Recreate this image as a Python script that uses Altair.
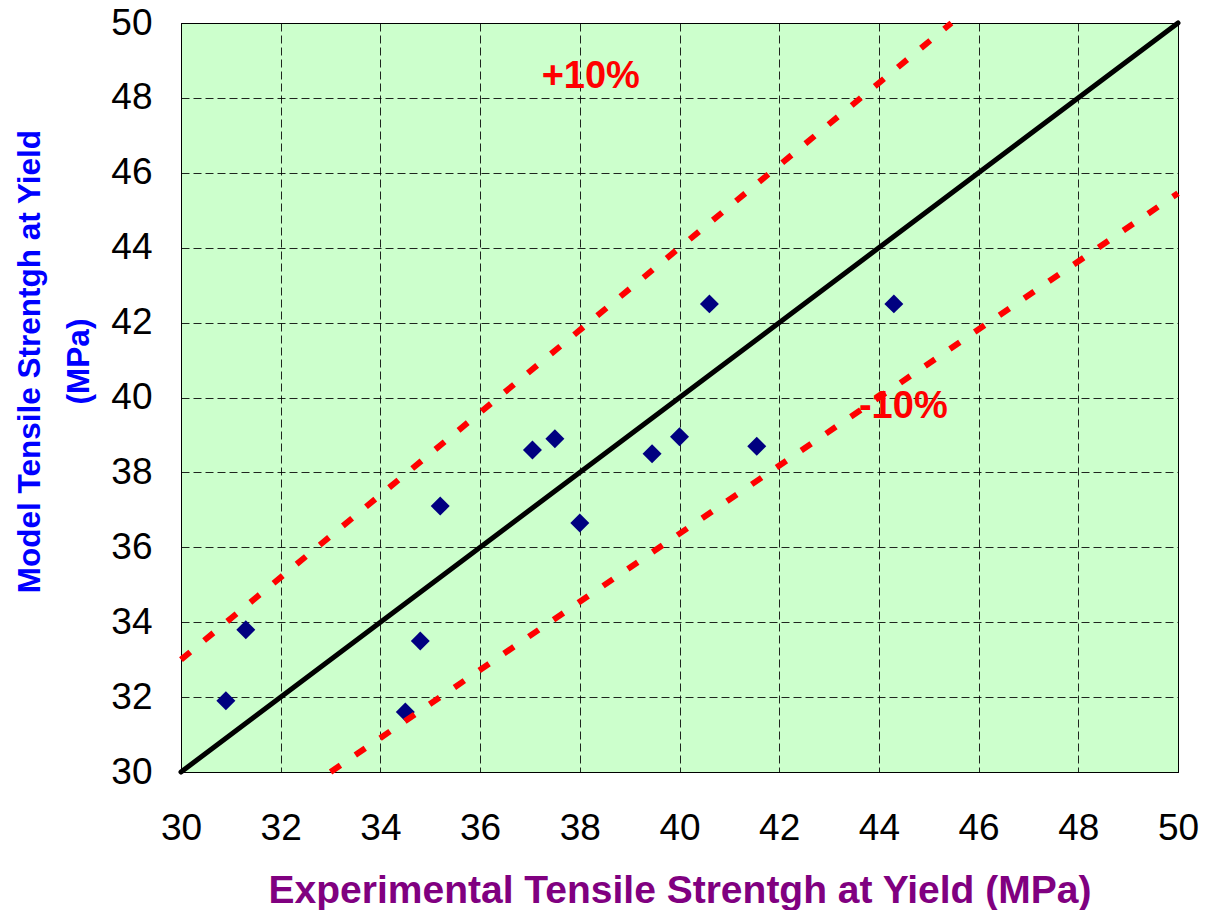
import altair as alt
import pandas as pd

# Measured data points (experimental vs model tensile strength at yield, MPa)
exp_vals = [30.9, 31.3, 34.5, 34.8, 35.2, 37.05, 37.5, 38.0, 39.45, 40.0, 40.6, 41.55, 44.3]
model_vals = [31.9, 33.8, 31.6, 33.5, 37.1, 38.6, 38.9, 36.65, 38.5, 38.95, 42.5, 38.7, 42.5]

# Reference lines (end points)
ident_x = [30, 50]
ident_y = [30, 50]
plus_x = [30, 45.4545]
plus_y = [33, 50]
minus_x = [33, 50]
minus_y = [30, 45.4545]

# Annotation labels
label_text = ["+10%", "-10%"]
label_x = [38.22, 44.49]
label_y = [48.26, 39.45]

ticks = list(range(30, 51, 2))

pts = pd.DataFrame({"x": exp_vals, "y": model_vals})
ident = pd.DataFrame({"x": ident_x, "y": ident_y})
plus = pd.DataFrame({"x": plus_x, "y": plus_y})
minus = pd.DataFrame({"x": minus_x, "y": minus_y})
labels = pd.DataFrame({"t": label_text, "x": label_x, "y": label_y})

FONT = "Liberation Sans"

xscale = alt.Scale(domain=[30, 50], nice=False, zero=False)
yscale = alt.Scale(domain=[30, 50], nice=False, zero=False)

xaxis = alt.Axis(
    values=ticks, title="Experimental Tensile Strentgh at Yield (MPa)",
    titleColor="#800080", titleFontSize=39, titleFontWeight="bold", titleFont=FONT,
    titleBaseline="alphabetic", titleY=130,
    labelFontSize=37, labelFont=FONT, labelColor="black", labelPadding=38,
    ticks=False, tickSize=0, grid=True, labelFlush=False,
)
yaxis = alt.Axis(
    values=ticks, title=["Model Tensile Strentgh at Yield", "(MPa)"],
    titleColor="#0000FF", titleFontSize=31.5, titleFontWeight="bold", titleFont=FONT,
    titleBaseline="alphabetic", titleX=-142, titleY=338, titleLineHeight=49,
    titleAngle=270, titleAlign="center",
    labelFontSize=37, labelFont=FONT, labelColor="black", labelPadding=29,
    ticks=False, tickSize=0, grid=True, labelFlush=False,
)

points = alt.Chart(pts).mark_point(
    shape="diamond", filled=True, color="#000080", size=360, opacity=1
).encode(
    x=alt.X("x:Q", scale=xscale, axis=xaxis),
    y=alt.Y("y:Q", scale=yscale, axis=yaxis),
)

red_style = dict(color="#FF0000", strokeWidth=6, strokeDash=[12, 18], strokeCap="butt")
plus_line = alt.Chart(plus).mark_line(**red_style).encode(
    x=alt.X("x:Q", scale=xscale), y=alt.Y("y:Q", scale=yscale))
minus_line = alt.Chart(minus).mark_line(**red_style).encode(
    x=alt.X("x:Q", scale=xscale), y=alt.Y("y:Q", scale=yscale))
ident_line = alt.Chart(ident).mark_line(color="black", strokeWidth=5, strokeCap="round").encode(
    x=alt.X("x:Q", scale=xscale), y=alt.Y("y:Q", scale=yscale))

text = alt.Chart(labels).mark_text(
    color="#FF0000", fontSize=38, fontWeight="bold", font=FONT,
    align="center", baseline="alphabetic"
).encode(
    x=alt.X("x:Q", scale=xscale), y=alt.Y("y:Q", scale=yscale), text="t:N")

chart = alt.layer(points, plus_line, minus_line, ident_line, text).properties(
    width=997, height=749,
    autosize=alt.AutoSizeParams(type="none"),
    padding={"left": 173, "top": 15, "right": 21, "bottom": 138},
    background="white",
).configure_view(
    fill="#CCFFCC", stroke="black", strokeWidth=1
).configure_axis(
    gridColor="black", gridDash=[8, 4], gridWidth=1, gridOpacity=0.85,
    domainColor="black", domainWidth=1,
)

chart.save("out.html", embed_options={"renderer": "svg", "actions": False})
